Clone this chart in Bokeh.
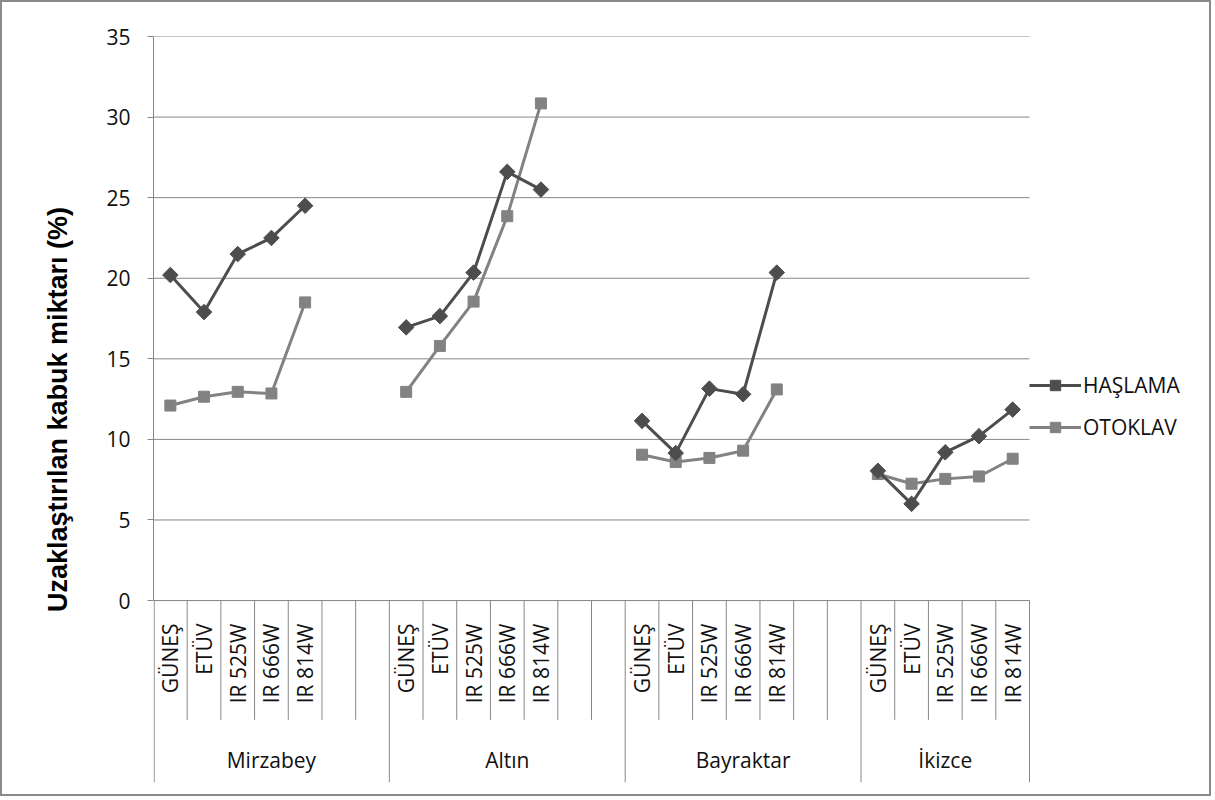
import math
from bokeh.plotting import figure
from bokeh.models import Range1d, FixedTicker, Legend, LegendItem, ColumnDataSource
from bokeh.core.properties import value
from bokeh.embed import file_html
from bokeh.resources import INLINE

# ---- data -------------------------------------------------------------
groups = ["Mirzabey", "Altın", "Bayraktar", "İkizce"]
treatments = ["GÜNEŞ", "ETÜV", "IR 525W", "IR 666W", "IR 814W"]
blank_slots = [2, 2, 2, 0]          # empty categories after each group
y_ticks = [0, 5, 10, 15, 20, 25, 30, 35]

haslama = [20.2, 17.9, 21.5, 22.5, 24.5,
           16.95, 17.65, 20.35, 26.6, 25.5,
           11.15, 9.15, 13.15, 12.8, 20.35,
           8.05, 6.0, 9.2, 10.2, 11.85]
otoklav = [12.1, 12.65, 12.95, 12.85, 18.5,
           12.95, 15.8, 18.55, 23.85, 30.85,
           9.05, 8.6, 8.85, 9.3, 13.1,
           7.85, 7.25, 7.55, 7.7, 8.8]
series_names = ["HAŞLAMA", "OTOKLAV"]

# ---- categories (slot index of each category on the x scale) ----------
factors = []
for g, nb in zip(groups, blank_slots):
    for t in treatments:
        factors.append((g, t))
    for k in range(nb):
        factors.append((g, None))
n_slots = len(factors)
real_idx = [i for i, f in enumerate(factors) if f[1] is not None]
real_x = [i + 0.5 for i in real_idx]
real_labels = [factors[i][1] for i in real_idx]
group_x = []
for g in groups:
    idx = [i for i, f in enumerate(factors) if f[0] == g]
    group_x.append((idx[0] + idx[-1] + 1) / 2)

def full_series(vals):
    d = dict(zip(real_idx, vals))
    return [d.get(i, float("nan")) for i in range(n_slots)]

# ---- layout / style ---------------------------------------------------
FONT = "Open Sans"
GRID = "#878787"
C1 = "#4d4d4d"
C2 = "#828282"
y_bottom = -11.29
W, H = 1211, 796
MB_L, MB_R, MB_T, MB_B = 151, 2, 34, 16
PLOT_W = 876                       # pixel width of the category area
frame_w = W - MB_L - MB_R
x_end = n_slots * frame_w / PLOT_W

p = figure(width=W, height=H, x_range=Range1d(0, x_end), y_range=Range1d(y_bottom, 35),
           output_backend="svg", toolbar_location=None, x_axis_location=None,
           min_border_left=MB_L, min_border_right=MB_R, min_border_top=MB_T,
           min_border_bottom=MB_B)
p.outline_line_color = None
p.background_fill_color = "white"
p.border_fill_color = "white"
p.styles = {"border": "2px solid #8a8a8a"}

# y axis
ya = p.yaxis[0]
ya.ticker = FixedTicker(ticks=y_ticks)
ya.bounds = (y_ticks[0], y_ticks[-1])
ya.axis_line_color = GRID
ya.major_tick_line_color = GRID
ya.major_tick_out = 6
ya.major_tick_in = 0
ya.minor_tick_line_color = None
ya.major_label_text_font = FONT
ya.major_label_text_font_size = "21px"
ya.major_label_text_color = "#111111"
ya.major_label_standoff = 17
ya.axis_label = "Uzaklaştırılan kabuk miktarı (%)"
ya.axis_label_text_font = "Liberation Sans"
ya.axis_label_text_font_style = "bold"
ya.axis_label_text_font_size = "27px"
ya.axis_label_text_color = "#000000"
ya.axis_label_standoff = 30
p.ygrid.visible = False
p.xgrid.visible = False

# horizontal grid lines, limited to the category area
p.segment(x0=[0] * len(y_ticks), y0=y_ticks, x1=[n_slots] * len(y_ticks), y1=y_ticks,
          line_color=GRID, line_width=1, level="underlay")

# category separator lines
sub_b, grp_b = [], [0.02]
pos = 0
for nb in blank_slots:
    n = len(treatments) + nb
    for k in range(1, n):
        sub_b.append(pos + k)
    pos += n
    grp_b.append(pos)
p.segment(x0=sub_b, y0=[0] * len(sub_b), x1=sub_b, y1=[-7.4] * len(sub_b),
          line_color=GRID, line_width=1)
p.segment(x0=grp_b, y0=[0] * len(grp_b), x1=grp_b, y1=[y_bottom] * len(grp_b),
          line_color=GRID, line_width=1)

# category labels
p.text(x=real_x, y=[-1.43] * len(real_x), text=real_labels,
       angle=math.pi / 2, text_align="right", text_baseline="middle",
       text_font=value(FONT), text_font_size="21px", text_color="#111111")
p.text(x=group_x, y=[-9.87] * len(groups), text=groups,
       text_align="center", text_baseline="middle",
       text_font=value(FONT), text_font_size="21px", text_color="#111111")

# series
all_x = [i + 0.5 for i in range(n_slots)]
src1 = ColumnDataSource(dict(x=all_x, y=full_series(haslama)))
src2 = ColumnDataSource(dict(x=all_x, y=full_series(otoklav)))
sc1 = ColumnDataSource(dict(x=real_x, y=haslama))
sc2 = ColumnDataSource(dict(x=real_x, y=otoklav))

l2 = p.line("x", "y", source=src2, line_color=C2, line_width=3, line_join="round")
m2 = p.scatter("x", "y", source=sc2, marker="square", size=11,
               fill_color=C2, line_color=C2)
l1 = p.line("x", "y", source=src1, line_color=C1, line_width=3, line_join="round")
m1 = p.scatter("x", "y", source=sc1, marker="square", angle=math.pi / 4, size=11,
               fill_color=C1, line_color=C1)

legend = Legend(items=[LegendItem(label=series_names[0], renderers=[l1, m1]),
                       LegendItem(label=series_names[1], renderers=[l2, m2])],
                location=(PLOT_W, 341), orientation="vertical")
legend.margin = 0
legend.padding = 6
legend.glyph_width = 52
legend.glyph_height = 26
legend.label_height = 26
legend.label_standoff = 2
legend.spacing = 14
legend.border_line_color = None
legend.background_fill_alpha = 0
legend.label_text_font = FONT
legend.label_text_font_size = "21px"
legend.label_text_color = "#111111"
legend.label_text_baseline = "middle"
p.add_layout(legend)

open("out.html", "w").write(file_html(p, INLINE))
